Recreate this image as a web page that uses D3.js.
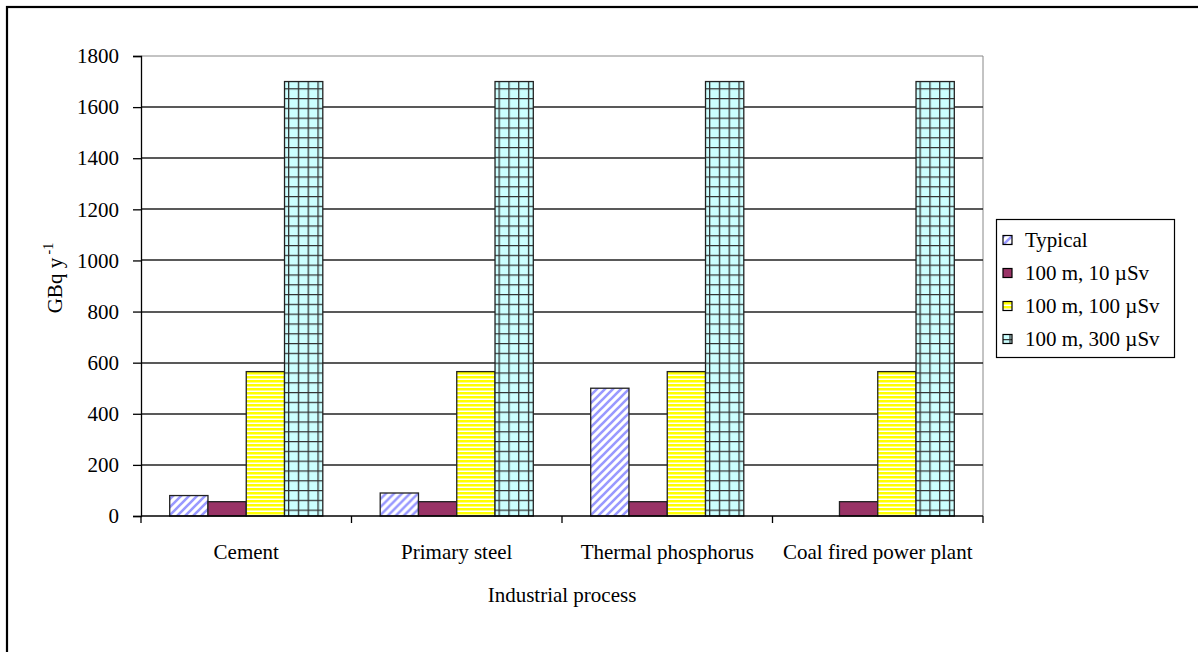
<!DOCTYPE html>
<html>
<head>
<meta charset="utf-8">
<script src="https://cdn.jsdelivr.net/npm/d3@7"></script>
<style>
  html, body { margin: 0; padding: 0; background: #fff; }
  svg { display: block; font-family: "Liberation Serif", "Times New Roman", serif; }
</style>
</head>
<body>
<svg id="chart" width="1198" height="652"></svg>
<script>
const categories = ["Cement", "Primary steel", "Thermal phosphorus", "Coal fired power plant"];
const seriesNames = ["Typical", "100 m, 10 \u00b5Sv", "100 m, 100 \u00b5Sv", "100 m, 300 \u00b5Sv"];
const typicalValues = [80, 90, 500, null];
const tenValues = [56, 56, 56, 56];
const hundredValues = [565, 565, 565, 565];
const threeHundredValues = [1700, 1700, 1700, 1700];
const yTicks = [0, 200, 400, 600, 800, 1000, 1200, 1400, 1600, 1800];
const xTitle = "Industrial process";

const seriesValues = [typicalValues, tenValues, hundredValues, threeHundredValues];
const fills = ["url(#patTypical)", "#993366", "url(#patYellow)", "url(#patGrid)"];

const svg = d3.select("#chart");
const W = 1198, H = 652;
const plot = { left: 141, right: 983, top: 56, bottom: 516 };

// patterns
const defs = svg.append("defs");
const p1 = defs.append("pattern").attr("id", "patTypical").attr("patternUnits", "userSpaceOnUse")
  .attr("width", 8).attr("height", 8);
p1.append("rect").attr("width", 8).attr("height", 8).attr("fill", "#fff");
p1.append("path").attr("d", "M-2,2 L2,-2 M0,8 L8,0 M6,10 L10,6")
  .attr("stroke", "#9999FF").attr("stroke-width", 2.6);

const p2 = defs.append("pattern").attr("id", "patYellow").attr("patternUnits", "userSpaceOnUse")
  .attr("width", 4).attr("height", 4);
p2.append("rect").attr("width", 4).attr("height", 4).attr("fill", "#FFFF00");
p2.append("rect").attr("y", 2.5).attr("width", 4).attr("height", 1.5).attr("fill", "#fff");

const p3 = defs.append("pattern").attr("id", "patGrid").attr("patternUnits", "userSpaceOnUse")
  .attr("width", 9.8).attr("height", 9.8);
p3.append("rect").attr("width", 9.8).attr("height", 9.8).attr("fill", "#CCFFFF");
p3.append("path").attr("d", "M0.6,0 V9.8 M0,0.6 H9.8")
  .attr("stroke", "#333").attr("stroke-width", 1.4);

// outer border
svg.append("rect").attr("x", 7).attr("y", 7).attr("width", W + 20).attr("height", H + 20)
  .attr("fill", "#fff").attr("stroke", "#000").attr("stroke-width", 2.2);

// scales
const y = d3.scaleLinear().domain([0, 1800]).range([plot.bottom, plot.top]);
const x = d3.scaleBand().domain(categories).range([plot.left, plot.right]).paddingInner(0).paddingOuter(0);
const x1 = d3.scaleBand().domain(d3.range(seriesNames.length)).range([0, x.bandwidth()]).paddingInner(0).paddingOuter(0.75);

// plot area border (grey, top/right)
svg.append("path")
  .attr("d", `M${plot.left},${plot.top}H${plot.right}V${plot.bottom}`)
  .attr("fill", "none").attr("stroke", "#888").attr("stroke-width", 1);

// gridlines
svg.append("g").selectAll("line").data(yTicks.filter(d => d > 0 && d < 1800)).join("line")
  .attr("x1", plot.left).attr("x2", plot.right)
  .attr("y1", d => Math.round(y(d))).attr("y2", d => Math.round(y(d)))
  .attr("stroke", "#222").attr("stroke-width", 1.3);

// bars
const groups = svg.append("g").selectAll("g").data(categories).join("g")
  .attr("transform", d => `translate(${x(d)},0)`);
groups.selectAll("rect")
  .data((c, ci) => seriesValues.map((vals, si) => ({ si, v: vals[ci] })).filter(d => d.v != null))
  .join("rect")
  .attr("x", d => x1(d.si))
  .attr("width", x1.bandwidth())
  .attr("y", d => y(d.v))
  .attr("height", d => y(0) - y(d.v))
  .attr("fill", d => fills[d.si])
  .attr("stroke", "#222").attr("stroke-width", 1.3);

// y axis
const yAxis = d3.axisLeft(y).tickValues(yTicks).tickSize(8).tickPadding(14).tickFormat(d3.format("d"));
const gy = svg.append("g").attr("transform", `translate(${plot.left},0)`).call(yAxis);
gy.select(".domain").attr("stroke", "#000").attr("stroke-width", 1.3);
gy.selectAll(".tick line").attr("stroke", "#000").attr("stroke-width", 1.3);
gy.selectAll(".tick text").attr("font-size", 21).attr("fill", "#000")
  .attr("font-family", "'Liberation Serif', 'Times New Roman', serif");

// x axis
const gx = svg.append("g").attr("transform", `translate(0,${plot.bottom})`);
gx.append("line").attr("x1", plot.left).attr("x2", plot.right).attr("y1", 0).attr("y2", 0)
  .attr("stroke", "#000").attr("stroke-width", 1.3);
const boundaries = categories.map(c => x(c)).concat([plot.right]);
gx.selectAll("line.tk").data(boundaries).join("line").attr("class", "tk")
  .attr("x1", d => d).attr("x2", d => d).attr("y1", 0).attr("y2", 7)
  .attr("stroke", "#000").attr("stroke-width", 1.3);
gx.selectAll("text").data(categories).join("text")
  .attr("x", d => x(d) + x.bandwidth() / 2).attr("y", 43)
  .attr("text-anchor", "middle").attr("font-size", 21).attr("fill", "#000")
  .text(d => d);

// x title
svg.append("text").attr("x", (plot.left + plot.right) / 2).attr("y", 602)
  .attr("text-anchor", "middle").attr("font-size", 21).attr("fill", "#000").text(xTitle);

// y title
const yt = svg.append("text").attr("transform", "translate(62,278) rotate(-90)")
  .attr("text-anchor", "middle").attr("font-size", 21).attr("fill", "#000");
yt.append("tspan").text("GBq y");
yt.append("tspan").attr("dy", -9).attr("font-size", 14).text(" -1");

// legend
const lg = svg.append("g");
const lgBox = { x: 996, y: 219, w: 178, h: 138 };
lg.append("rect").attr("x", lgBox.x + 0.5).attr("y", lgBox.y + 0.5).attr("width", lgBox.w).attr("height", lgBox.h)
  .attr("fill", "#fff").attr("stroke", "#000").attr("stroke-width", 1.2);
const rowY = d3.scalePoint().domain(d3.range(seriesNames.length)).range([240, 339]);
const items = lg.selectAll("g.item").data(seriesNames).join("g").attr("class", "item")
  .attr("transform", (d, i) => `translate(0,${rowY(i)})`);
items.append("rect").attr("x", 1003).attr("y", -4.5).attr("width", 9).attr("height", 9)
  .attr("fill", (d, i) => fills[i]).attr("stroke", "#000").attr("stroke-width", 1.2);
items.append("text").attr("x", 1025).attr("y", 7).attr("font-size", 21).attr("fill", "#000").text(d => d);
</script>
</body>
</html>
